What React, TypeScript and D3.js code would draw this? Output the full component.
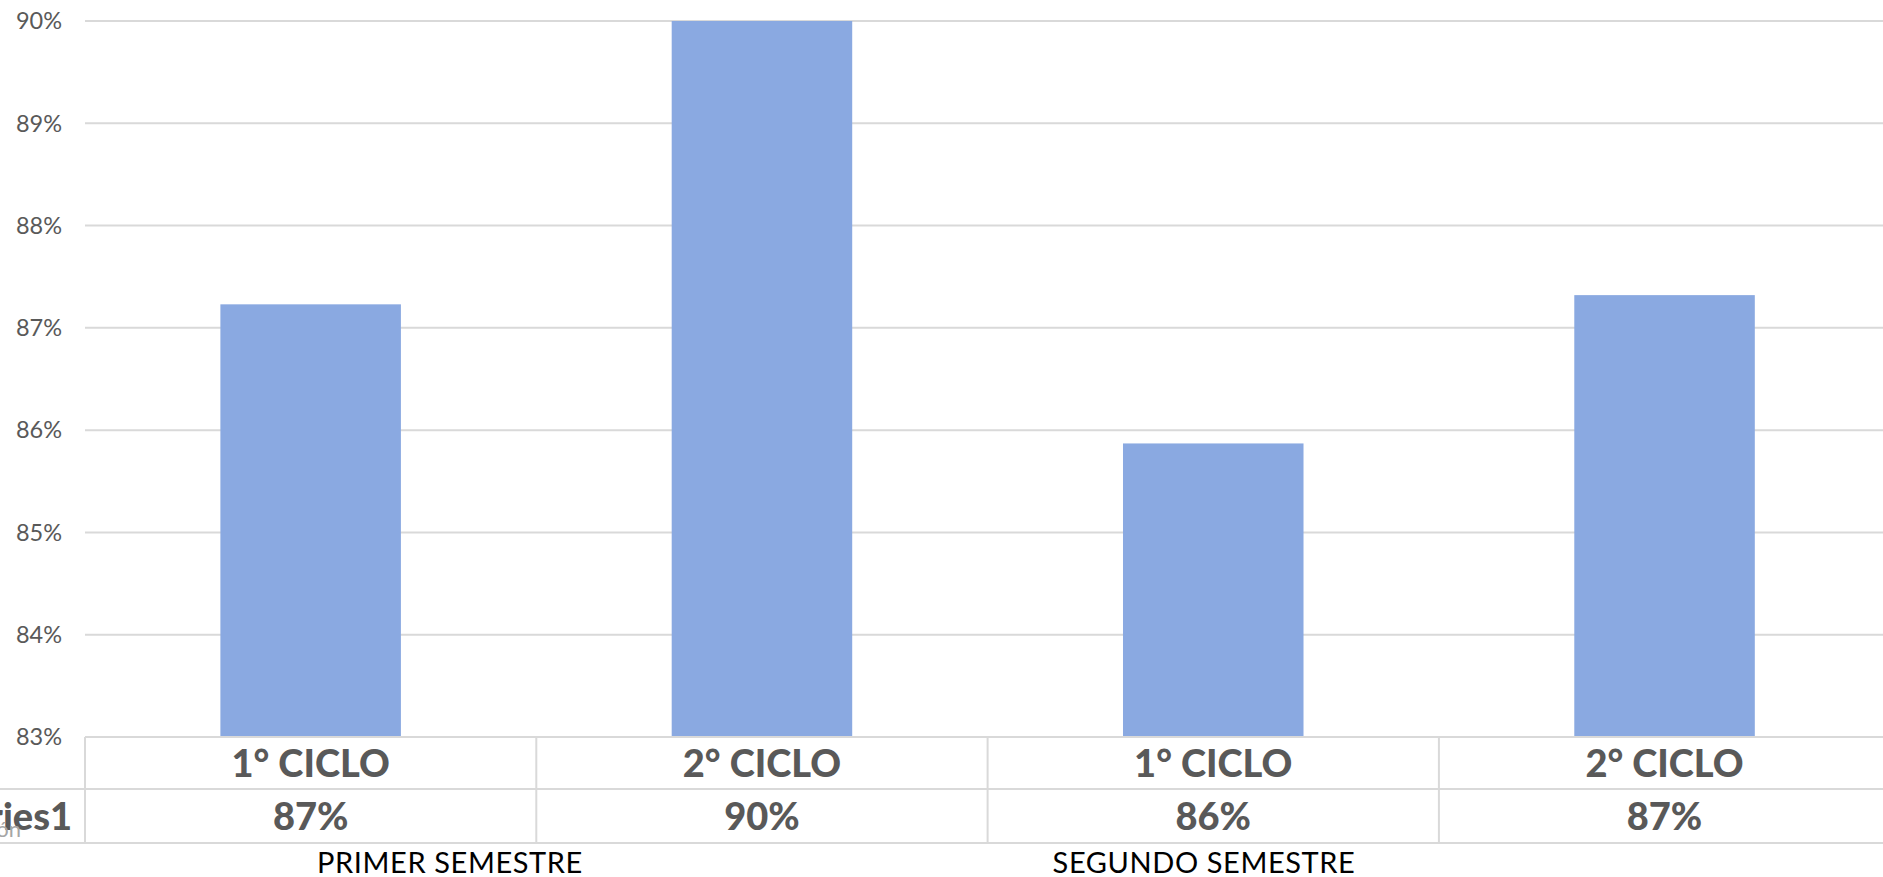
import React from "react";
import * as d3 from "d3";

const categories = ["1° CICLO", "2° CICLO", "1° CICLO", "2° CICLO"];
const values = [87.23, 90.0, 85.87, 87.32];
const valueLabels = ["87%", "90%", "86%", "87%"];
const yTicks = [83, 84, 85, 86, 87, 88, 89, 90];
const groups = ["PRIMER SEMESTRE", "SEGUNDO SEMESTRE"];
const groupCenters = [450, 1204];
const seriesName = "Series1";

const W = 1883;
const H = 877;
const left = 85;
const colW = 451.3;
const top = 21;
const bottom = 737;
const row1 = 789;
const row2 = 843;

export default function App() {
  const idx = categories.map((_, i) => String(i));
  const x = d3
    .scaleBand<string>()
    .domain(idx)
    .range([left, left + colW * categories.length])
    .paddingInner(0.6)
    .paddingOuter(0.3);
  const y = d3.scaleLinear().domain([83, 90]).range([bottom, top]);
  const grid = "#d9d9d9";
  const txt = "#595959";
  const step = x.step();
  const colLeft = (i: number) => (x(String(i)) as number) - step * 0.3;
  return (
    <svg
      width={W}
      height={H}
      style={{ position: "absolute", left: 0, top: 0, background: "#fff" }}
      fontFamily="Lato, 'Noto Sans', sans-serif"
    >
      {yTicks.map((t) => (
        <g key={t}>
          {t !== 83 && (
            <line x1={left} x2={left + colW * 4} y1={y(t)} y2={y(t)} stroke={grid} strokeWidth={2} />
          )}
          <text x={62} y={y(t)} dy="0.35em" textAnchor="end" fontSize={23.5} fill={txt}>
            {t}%
          </text>
        </g>
      ))}
      {values.map((v, i) => (
        <rect
          key={i}
          x={x(String(i))}
          y={y(v)}
          width={x.bandwidth()}
          height={bottom - y(v)}
          fill="#8aa9e1"
        />
      ))}
      {/* data table */}
      <line x1={left} x2={W + 10} y1={bottom} y2={bottom} stroke={grid} strokeWidth={2} />
      <line x1={0} x2={W + 10} y1={row1} y2={row1} stroke={grid} strokeWidth={2} />
      <line x1={0} x2={W + 10} y1={row2} y2={row2} stroke={grid} strokeWidth={2} />
      {categories.map((_, i) => (
        <line key={i} x1={colLeft(i)} x2={colLeft(i)} y1={bottom} y2={row2} stroke={grid} strokeWidth={2} />
      ))}
      {categories.map((c, i) => (
        <text
          key={"c" + i}
          x={(x(String(i)) as number) + x.bandwidth() / 2}
          y={(bottom + row1) / 2}
          dy="0.36em"
          textAnchor="middle"
          fontSize={38}
          fontWeight={900}
          fill={txt}
        >
          {c}
        </text>
      ))}
      {valueLabels.map((c, i) => (
        <text
          key={"v" + i}
          x={(x(String(i)) as number) + x.bandwidth() / 2}
          y={(row1 + row2) / 2}
          dy="0.36em"
          textAnchor="middle"
          fontSize={38}
          fontWeight={900}
          fill={txt}
        >
          {c}
        </text>
      ))}
      <text x={72} y={(row1 + row2) / 2} dy="0.36em" textAnchor="end" fontSize={38} fontWeight={900} fill={txt}>
        {seriesName}
      </text>
      <text x={21} y={837} textAnchor="end" fontSize={22} fill="#a6a6a6">
        Descripción
      </text>
      {groups.map((g, i) => (
        <text key={g} x={groupCenters[i]} y={873} textAnchor="middle" fontSize={29} fill="#000" letterSpacing={0.6}>
          {g}
        </text>
      ))}
    </svg>
  );
}
